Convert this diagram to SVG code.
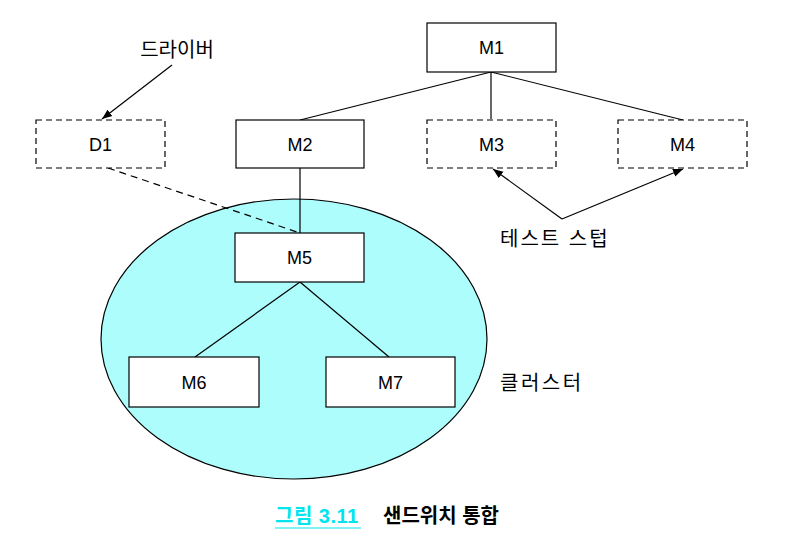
<svg xmlns="http://www.w3.org/2000/svg" width="791" height="547" viewBox="0 0 791 547">
<style>
.box{fill:#fff;stroke:#000;stroke-width:1.2}
.stub{fill:#fff;stroke:#000;stroke-width:1.2;stroke-dasharray:6 4}
.ln{stroke:#000;stroke-width:1.2;fill:none}
.dash{stroke:#000;stroke-width:1.2;fill:none;stroke-dasharray:7 5}
text{font-family:"Liberation Sans","Noto Sans CJK KR",sans-serif;font-size:18px;fill:#000}
.c{text-anchor:middle}
.k{font-size:20px}
</style>
<defs>
<marker id="ah" viewBox="0 0 10 10" refX="10" refY="5" markerWidth="10" markerHeight="10" markerUnits="userSpaceOnUse" orient="auto">
<path d="M0,1 L10,5 L0,9 Z" fill="#000"/>
</marker>
</defs>
<ellipse id="cluster" cx="294" cy="339" rx="193" ry="140" fill="#aefdfd" stroke="#000" stroke-width="1.2"/>
<g id="connectors">
<line class="ln" x1="491" y1="72" x2="300" y2="120"/>
<line class="ln" x1="491" y1="72" x2="491" y2="119"/>
<line class="ln" x1="491" y1="72" x2="683" y2="120"/>
<line class="ln" x1="300" y1="168" x2="300" y2="233"/>
<line class="dash" x1="108" y1="168" x2="300" y2="233"/>
<line class="ln" x1="300" y1="282" x2="195" y2="357"/>
<line class="ln" x1="300" y1="282" x2="389" y2="357"/>
<line class="ln" x1="172" y1="65" x2="102" y2="119" marker-end="url(#ah)"/>
<line class="ln" x1="562" y1="219" x2="493" y2="169" marker-end="url(#ah)"/>
<line class="ln" x1="562" y1="219" x2="683" y2="169" marker-end="url(#ah)"/>
</g>
<g id="M1"><rect class="box" x="427" y="23" width="129" height="49"/><text class="c" x="491.5" y="54">M1</text></g>
<g id="D1"><rect class="stub" x="36" y="120" width="129" height="48"/><text class="c" x="100.5" y="151">D1</text></g>
<g id="M2"><rect class="box" x="236" y="120" width="128" height="48"/><text class="c" x="300" y="151">M2</text></g>
<g id="M3"><rect class="stub" x="427" y="120" width="129" height="48"/><text class="c" x="491.5" y="151">M3</text></g>
<g id="M4"><rect class="stub" x="618" y="120" width="129" height="48"/><text class="c" x="682.5" y="151">M4</text></g>
<g id="M5"><rect class="box" x="235" y="233" width="129" height="49"/><text class="c" x="299.5" y="264">M5</text></g>
<g id="M6"><rect class="box" x="129" y="357" width="130" height="50"/><text class="c" x="194" y="389">M6</text></g>
<g id="M7"><rect class="box" x="326" y="357" width="129" height="50"/><text class="c" x="390.5" y="389">M7</text></g>
<g id="labels">
<text class="c k" x="177" y="57">드라이버</text>
<text class="k" x="500" y="246" style="letter-spacing:2px">테스트 스텁</text>
<text class="k" x="500" y="390" style="letter-spacing:2.5px">클러스터</text>
</g>
<g id="caption">
<text x="275" y="523" style="fill:#00e5ee;font-weight:bold;font-size:20px;letter-spacing:0.5px">그림 3.11</text>
<line x1="275" y1="528" x2="361" y2="528" stroke="#00e5ee" stroke-width="1.2"/>
<text x="383" y="523" style="font-weight:bold;font-size:20px">샌드위치 통합</text>
</g>
</svg>
